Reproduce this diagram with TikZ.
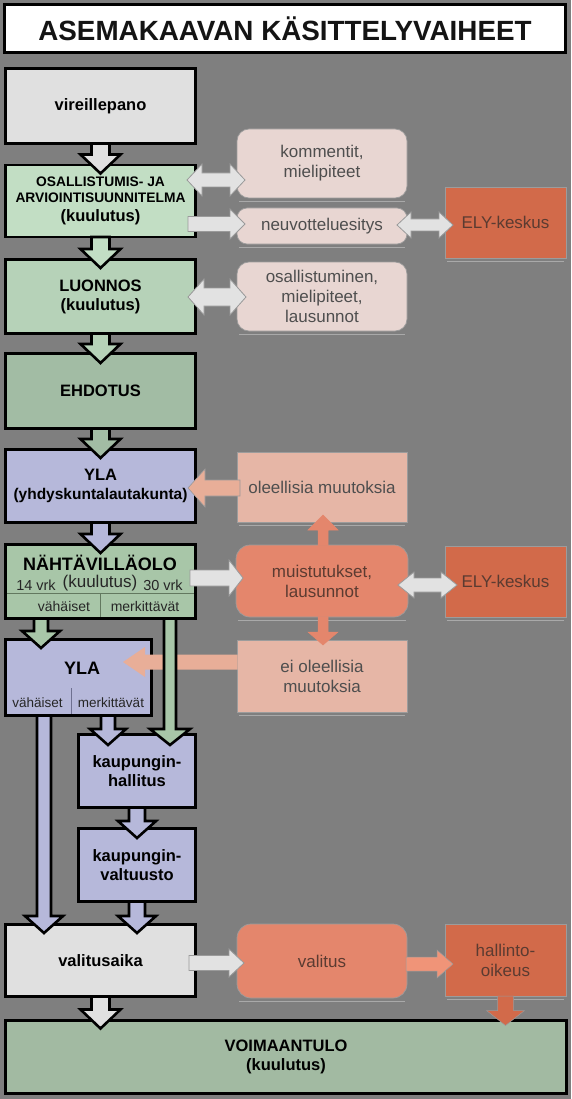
\documentclass[tikz,border=0pt]{standalone}
\usepackage{fontspec}
\setmainfont{Liberation Sans}
\usetikzlibrary{calc}
\definecolor{bg}{HTML}{7F7F7F}
\definecolor{cvir}{HTML}{E0E0E0}
\definecolor{cosal}{HTML}{C2DEC4}
\definecolor{cluo}{HTML}{B6D2B8}
\definecolor{cehd}{HTML}{A2BCA4}
\definecolor{cyla}{HTML}{B6B8DA}
\definecolor{cnah}{HTML}{A8C6A8}
\definecolor{cvoim}{HTML}{A2BAA2}
\definecolor{clight}{HTML}{E8D6D2}
\definecolor{cmid}{HTML}{E6B6A6}
\definecolor{cmui}{HTML}{E4866C}
\definecolor{cely}{HTML}{D26A4A}
\definecolor{garrowfill}{HTML}{E2E2E2}
\definecolor{garrowline}{HTML}{9A9A9A}
\definecolor{salarrow}{HTML}{E8AE98}
\definecolor{valarrow}{HTML}{F09478}
\definecolor{sidetext}{HTML}{4E4E4E}
\definecolor{darktext}{HTML}{5B3B31}
\definecolor{sideline}{HTML}{9C9C9C}
\definecolor{shadowc}{HTML}{A9A9A9}
\definecolor{divline}{HTML}{62785F}
\definecolor{divline2}{HTML}{6E7090}

% fat single arrow: style, start, tip, shaft half width, head half width, head length
\newcommand\fatarrow[6]{%
  \coordinate (fa-a) at (#2);
  \coordinate (fa-b) at (#3);
  \coordinate (fa-c) at ($(fa-b)!#6!(fa-a)$);
  \draw[#1] ($(fa-a)!#4!90:(fa-b)$) -- ($(fa-c)!#4!90:(fa-b)$) -- ($(fa-c)!#5!90:(fa-b)$)
    -- (fa-b) -- ($(fa-c)!#5!-90:(fa-b)$) -- ($(fa-c)!#4!-90:(fa-b)$)
    -- ($(fa-a)!#4!-90:(fa-b)$) -- cycle;
}
% fat double arrow
\newcommand\fatdarrow[6]{%
  \coordinate (fa-a) at (#2);
  \coordinate (fa-b) at (#3);
  \coordinate (fa-c) at ($(fa-b)!#6!(fa-a)$);
  \coordinate (fa-d) at ($(fa-a)!#6!(fa-b)$);
  \draw[#1] (fa-a) -- ($(fa-d)!#5!90:(fa-b)$) -- ($(fa-d)!#4!90:(fa-b)$)
    -- ($(fa-c)!#4!90:(fa-b)$) -- ($(fa-c)!#5!90:(fa-b)$) -- (fa-b)
    -- ($(fa-c)!#5!-90:(fa-b)$) -- ($(fa-c)!#4!-90:(fa-b)$)
    -- ($(fa-d)!#4!-90:(fa-b)$) -- ($(fa-d)!#5!-90:(fa-b)$) -- cycle;
}
\newcommand\smallcaps[1]{{\fontsize{13.8}{15}\selectfont #1}}

\begin{document}
\begin{tikzpicture}[x=1pt,y=-1pt,
  mainbox/.style={draw=black, line width=2.8pt, inner sep=0pt, outer sep=0pt,
    font=\bfseries\fontsize{16.5}{19}\selectfont, align=center, text=black},
  titlebox/.style={draw=black, line width=2.8pt, fill=white, inner sep=0pt,
    font=\bfseries\fontsize{27.8}{30}\selectfont, text=black!92},
  sidebox/.style={draw=sideline, line width=0.7pt, inner sep=0pt, outer sep=0pt,
    font=\fontsize{17}{20}\selectfont, align=center, text=sidetext},
  darkbox/.style={sidebox, text=darktext},
  shadowline/.style={draw=shadowc, line width=1.4pt},
  subtext/.style={font=\fontsize{14}{16}\selectfont, text=black!85, inner sep=0pt},
  mainarrow/.style={draw=black, line width=2.6pt, line join=miter},
  garrow/.style={fill=garrowfill, draw=garrowline, line width=0.8pt, line join=miter},
  sarrow/.style={fill=salarrow, draw=garrowline, line width=0.6pt, line join=miter},
]
\fill[bg] (0,0) rectangle (571,1099);
\useasboundingbox (0,0) rectangle (571,1099);

% title
\node[titlebox, minimum width=561pt, minimum height=48pt] (title) at (285,28.5) {ASEMAKAAVAN KÄSITTELYVAIHEET};

% side boxes
\node[sidebox, fill=clight, rounded corners=12pt, minimum width=170pt, minimum height=69pt] (kom) at (322,163.5) {kommentit,\\mielipiteet};
\node[sidebox, fill=clight, rounded corners=10pt, minimum width=170pt, minimum height=36pt] (neu) at (322,226) {neuvotteluesitys};
\node[darkbox, fill=cely, minimum width=121pt, minimum height=71pt] (ely1) at (505.5,222.5) {ELY-keskus};
\node[sidebox, fill=clight, rounded corners=12pt, minimum width=170pt, minimum height=69pt] (osa2) at (322,296.5) {osallistuminen,\\mielipiteet,\\lausunnot};
\node[sidebox, fill=cmid, minimum width=170pt, minimum height=70pt] (ole) at (322,487) {oleellisia muutoksia};
\node[darkbox, fill=cmui, rounded corners=14pt, minimum width=172pt, minimum height=72pt] (mui) at (322,581) {muistutukset,\\lausunnot};
\node[darkbox, fill=cely, minimum width=121pt, minimum height=71pt] (ely2) at (505.5,581.5) {ELY-keskus};
\node[sidebox, fill=cmid, minimum width=170pt, minimum height=72pt] (eio) at (322,676) {ei oleellisia\\muutoksia};
\node[darkbox, fill=cmui, rounded corners=14pt, minimum width=170pt, minimum height=74pt] (valit) at (322,961) {valitus};
\node[darkbox, fill=cely, minimum width=121pt, minimum height=72pt] (hao) at (505.5,960) {hallinto-\\oikeus};

\foreach \b in {kom,neu,ely1,osa2,ole,mui,ely2,eio,valit,hao}{
  \draw[shadowline] ($(\b.south west)+(2,3.5)$) -- ($(\b.south east)+(-2,3.5)$);
}

% main boxes
\node[mainbox, fill=cvir, minimum width=190pt, minimum height=75pt] (vir) at (100.5,106) {vireillepano};
\node[mainbox, fill=cosal, minimum width=190pt, minimum height=72pt] (osal) at (100.5,201)
  {\smallcaps{OSALLISTUMIS- JA}\\[-3pt]\smallcaps{ARVIOINTISUUNNITELMA}\\(kuulutus)};
\node[mainbox, fill=cluo, minimum width=190pt, minimum height=74pt] (luo) at (100.5,296.5) {LUONNOS\\(kuulutus)};
\node[mainbox, fill=cehd, minimum width=190pt, minimum height=75pt] (ehd) at (100.5,391) {EHDOTUS};
\node[mainbox, fill=cyla, minimum width=190pt, minimum height=73pt] (yla) at (100.5,486) {YLA\\{\fontsize{15.5}{19}\selectfont (yhdyskuntalautakunta)}};
\node[mainbox, fill=cnah, minimum width=190pt, minimum height=74pt] (nah) at (100.5,581.5) {};
\node[mainbox, fill=cyla, minimum width=146pt, minimum height=76pt] (yla2) at (78.5,677.5) {};
\node[mainbox, fill=cyla, minimum width=117pt, minimum height=73pt] (hal) at (137,771) {kaupungin-\\hallitus};
\node[mainbox, fill=cyla, minimum width=117pt, minimum height=73pt] (val) at (137,865) {kaupungin-\\valtuusto};
\node[mainbox, fill=cvir, minimum width=190pt, minimum height=72pt] (vali) at (100.5,960.5) {valitusaika};
\node[mainbox, fill=cvoim, minimum width=561pt, minimum height=73pt] (voim) at (286,1057) {VOIMAANTULO\\(kuulutus)};

% NÄHTÄVILLÄOLO contents
\node[font=\bfseries\fontsize{18}{20}\selectfont, inner sep=0pt] (nahT) at (100,563) {NÄHTÄVILLÄOLO};
\node[font=\fontsize{17}{19}\selectfont, inner sep=0pt, text=black!85] (nahK) at (100,583) {(kuulutus)};
\node[subtext, font=\fontsize{14.5}{16}\selectfont] (nah14) at (36,585) {14 vrk};
\node[subtext, font=\fontsize{14.5}{16}\selectfont] (nah30) at (163,585) {30 vrk};
\draw[divline, line width=0.8pt] ($(nah.west)+(1.4,11.5)$) -- ($(nah.east)+(-1.4,11.5)$);
\draw[divline, line width=0.8pt] ($(nah.center)+(-0.5,11.5)$) -- ($(nah.south)+(-0.5,-1.4)$);
\node[subtext] (nahV) at (64,606) {vähäiset};
\node[subtext] (nahM) at (145,606) {merkittävät};

% YLA 2 contents
\node[font=\bfseries\fontsize{18}{20}\selectfont, inner sep=0pt] (yla2T) at (82,668) {YLA};
\draw[divline2, line width=0.8pt] ($(yla2.south)+(-7.5,-27.5)$) -- ($(yla2.south)+(-7.5,-1.4)$);
\node[subtext, font=\fontsize{13.5}{16}\selectfont] (yla2V) at (37.5,703) {vähäiset};
\node[subtext, font=\fontsize{13.5}{16}\selectfont] (yla2M) at (111,703) {merkittävät};

% main vertical arrows
\fatarrow{mainarrow, fill=cvir}{vir.south}{$(osal.north)+(0,8.5)$}{9pt}{20pt}{19pt}
\fatarrow{mainarrow, fill=cosal}{osal.south}{$(luo.north)+(0,8.5)$}{9pt}{20pt}{19pt}
\fatarrow{mainarrow, fill=cluo}{luo.south}{$(ehd.north)+(0,9.5)$}{9pt}{20pt}{19pt}
\fatarrow{mainarrow, fill=cehd}{ehd.south}{$(yla.north)+(0,8.5)$}{9pt}{20pt}{19pt}
\fatarrow{mainarrow, fill=cyla}{yla.south}{$(nah.north)+(0,8.5)$}{9pt}{20pt}{19pt}

% side horizontal arrows
\fatdarrow{garrow}{$(osal.east)+(-8.5,-21)$}{$(kom.west)+(8,16.5)$}{7pt}{16pt}{15pt}
\fatarrow{garrow}{$(osal.east)+(-7.5,23)$}{$(neu.west)+(8,-2)$}{7.5pt}{15pt}{15pt}
\fatdarrow{garrow}{$(neu.east)+(-10,-1)$}{$(ely1.west)+(8,2.5)$}{6pt}{13pt}{14pt}
\fatdarrow{garrow}{$(luo.east)+(-7.5,0.5)$}{$(osa2.west)+(9,0.5)$}{9pt}{18pt}{16pt}
\fatarrow{garrow}{$(nah.east)+(-5.5,-3.5)$}{$(mui.west)+(7,-3)$}{8pt}{18pt}{14pt}
\fatdarrow{garrow}{$(mui.east)+(-10,4)$}{$(ely2.west)+(12,3.5)$}{7pt}{13pt}{16pt}
\fatarrow{garrow}{$(vali.east)+(-6.5,2.5)$}{$(valit.west)+(7,2)$}{7.5pt}{14pt}{15pt}

% salmon arrows
\fatarrow{sarrow}{$(ole.west)+(3,1)$}{$(yla.east)+(-7.5,2)$}{8pt}{19pt}{17pt}
\fatarrow{fill=cmui, draw=cmui, line width=0.5pt}{$(mui.north)+(1,0.5)$}{$(ole.south)+(1,-7)$}{5pt}{15pt}{15pt}
\fatarrow{fill=cmui, draw=cmui, line width=0.5pt}{$(mui.south)+(1,-0.5)$}{$(eio.north)+(1,5)$}{5pt}{15pt}{13pt}
\fatarrow{sarrow, draw=none}{$(eio.west)+(0.5,-14)$}{$(yla2.east)+(-28.5,-15.5)$}{7.5pt}{15pt}{22pt}
\fatarrow{fill=valarrow, draw=garrowline, line width=0.5pt}{$(valit.east)+(-1,3)$}{$(hao.west)+(8,4)$}{7pt}{14pt}{16pt}
\fatarrow{fill=cely, draw=garrowline, line width=0.5pt}{hao.south}{$(voim.north -| hao.south)+(0,5)$}{8pt}{19pt}{15pt}

% branching arrows
\coordinate (g1s) at ($(nah.south)+(-59.5,0)$);
\coordinate (g1e) at ($(g1s |- yla2.north)+(0,8.5)$);
\fatarrow{mainarrow, fill=cnah}{g1s}{g1e}{7pt}{19pt}{17pt}
\coordinate (g2s) at ($(nah.south)+(69.5,0)$);
\coordinate (g2e) at ($(g2s |- hal.north)+(0,10.5)$);
\fatarrow{mainarrow, fill=cnah}{g2s}{g2e}{6pt}{20pt}{16pt}
\coordinate (l1s) at ($(yla2.south)+(-34.5,0)$);
\coordinate (l1e) at ($(l1s |- vali.north)+(0,8.5)$);
\fatarrow{mainarrow, fill=cyla}{l1s}{l1e}{7pt}{19pt}{17pt}
\coordinate (l2s) at ($(yla2.south)+(29.5,0)$);
\coordinate (l2e) at ($(l2s |- hal.north)+(0,10.5)$);
\fatarrow{mainarrow, fill=cyla}{l2s}{l2e}{7pt}{18pt}{16pt}
\fatarrow{mainarrow, fill=cyla}{hal.south}{$(val.north)+(0,9.5)$}{8pt}{19pt}{17pt}
\fatarrow{mainarrow, fill=cyla}{val.south}{$(val.south |- vali.north)+(0,8.5)$}{8pt}{19pt}{17pt}
\fatarrow{mainarrow, fill=cvir}{vali.south}{$(voim.north -| vali.south)+(0,8)$}{9pt}{20pt}{19pt}
\end{tikzpicture}
\end{document}
